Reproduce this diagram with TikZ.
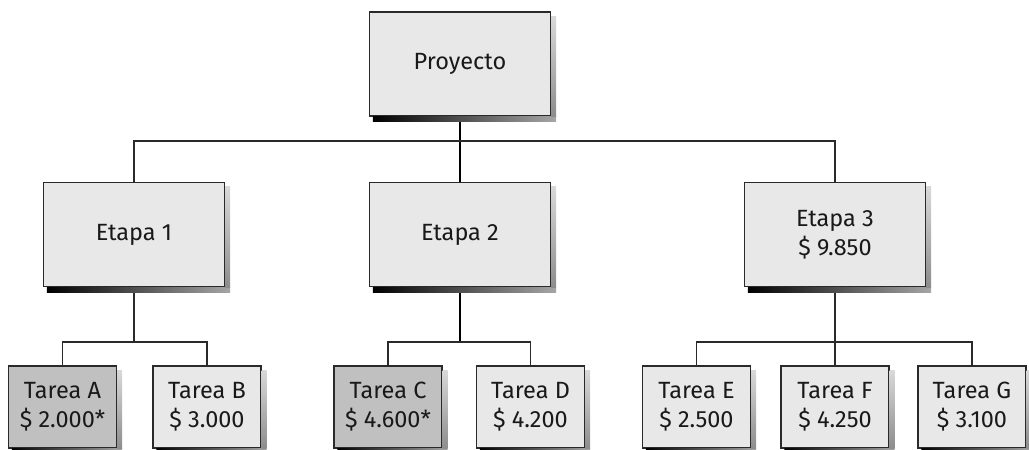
\documentclass[tikz,border=0pt]{standalone}
\usepackage{fontspec}
\setmainfont{Fira Sans}
\usetikzlibrary{positioning}
\definecolor{boxfill}{HTML}{E8E8E8}
\definecolor{darkfill}{HTML}{C0C0C0}
\definecolor{edge}{HTML}{2A2A2A}
\tikzset{
  box/.style={draw=edge, line width=1.2pt, fill=boxfill, inner sep=0pt, align=center,
    font=\fontsize{23.5}{29}\selectfont, text=black!90},
  bigbox/.style={box, minimum width=181pt, minimum height=104pt},
  taskbox/.style={box, minimum width=108pt, minimum height=82pt},
  marked/.style={fill=darkfill},
  conn/.style={draw=edge, line width=1.3pt},
  spine/.style={draw=black, line width=2.2pt},
}
\newcommand{\dropshadow}[1]{%
  \shade[left color=black, right color=black!35]
    ([xshift=4pt]#1.south west) rectangle ([xshift=5pt,yshift=-5pt]#1.south east);
  \shade[top color=black!15, bottom color=black!45]
    ([yshift=-5pt]#1.north east) rectangle ([xshift=5pt]#1.south east);
}
\begin{document}
\begin{tikzpicture}[x=1pt,y=-1pt]
\useasboundingbox (0,0) rectangle (1029,450);
\node[bigbox] (P) at (460,64) {Proyecto};
\node[bigbox] (E1) at (134,234.5) {Etapa 1};
\node[bigbox] (E2) at (460,234.5) {Etapa 2};
\node[bigbox] (E3) at (835,234.5) {Etapa 3\\\$ 9.850};
\node[taskbox, marked] (TA) at (62.5,407) {Tarea A\\\$ 2.000*};
\node[taskbox] (TB) at (207,407) {Tarea B\\\$ 3.000};
\node[taskbox, marked] (TC) at (388,407) {Tarea C\\\$ 4.600*};
\node[taskbox] (TD) at (530.5,407) {Tarea D\\\$ 4.200};
\node[taskbox] (TE) at (696.5,407) {Tarea E\\\$ 2.500};
\node[taskbox] (TF) at (835,407) {Tarea F\\\$ 4.250};
\node[taskbox] (TG) at (972,407) {Tarea G\\\$ 3.100};
\coordinate (b1) at (460,141);
\coordinate (b2) at (134,342);
\coordinate (b3) at (460,342);
\coordinate (b4) at (835,342);
% connectors
\draw[spine] (P.south) -- (E2.north);
\draw[conn] (E1.north) |- (b1) -| (E3.north);
\draw[conn] (E1.south) -- (b2);
\draw[conn] (TA.north) |- (b2) -| (TB.north);
\draw[spine] (E2.south) -- (b3);
\draw[conn] (TC.north) |- (b3) -| (TD.north);
\draw[conn] (E3.south) -- (b4);
\draw[conn] (TE.north) |- (b4) -| (TG.north);
\draw[conn] (b4) -- (TF.north);
% shadows
\foreach \n in {P,E1,E2,E3,TA,TB,TC,TD,TE,TF,TG} {\dropshadow{\n}}
\end{tikzpicture}
\end{document}
